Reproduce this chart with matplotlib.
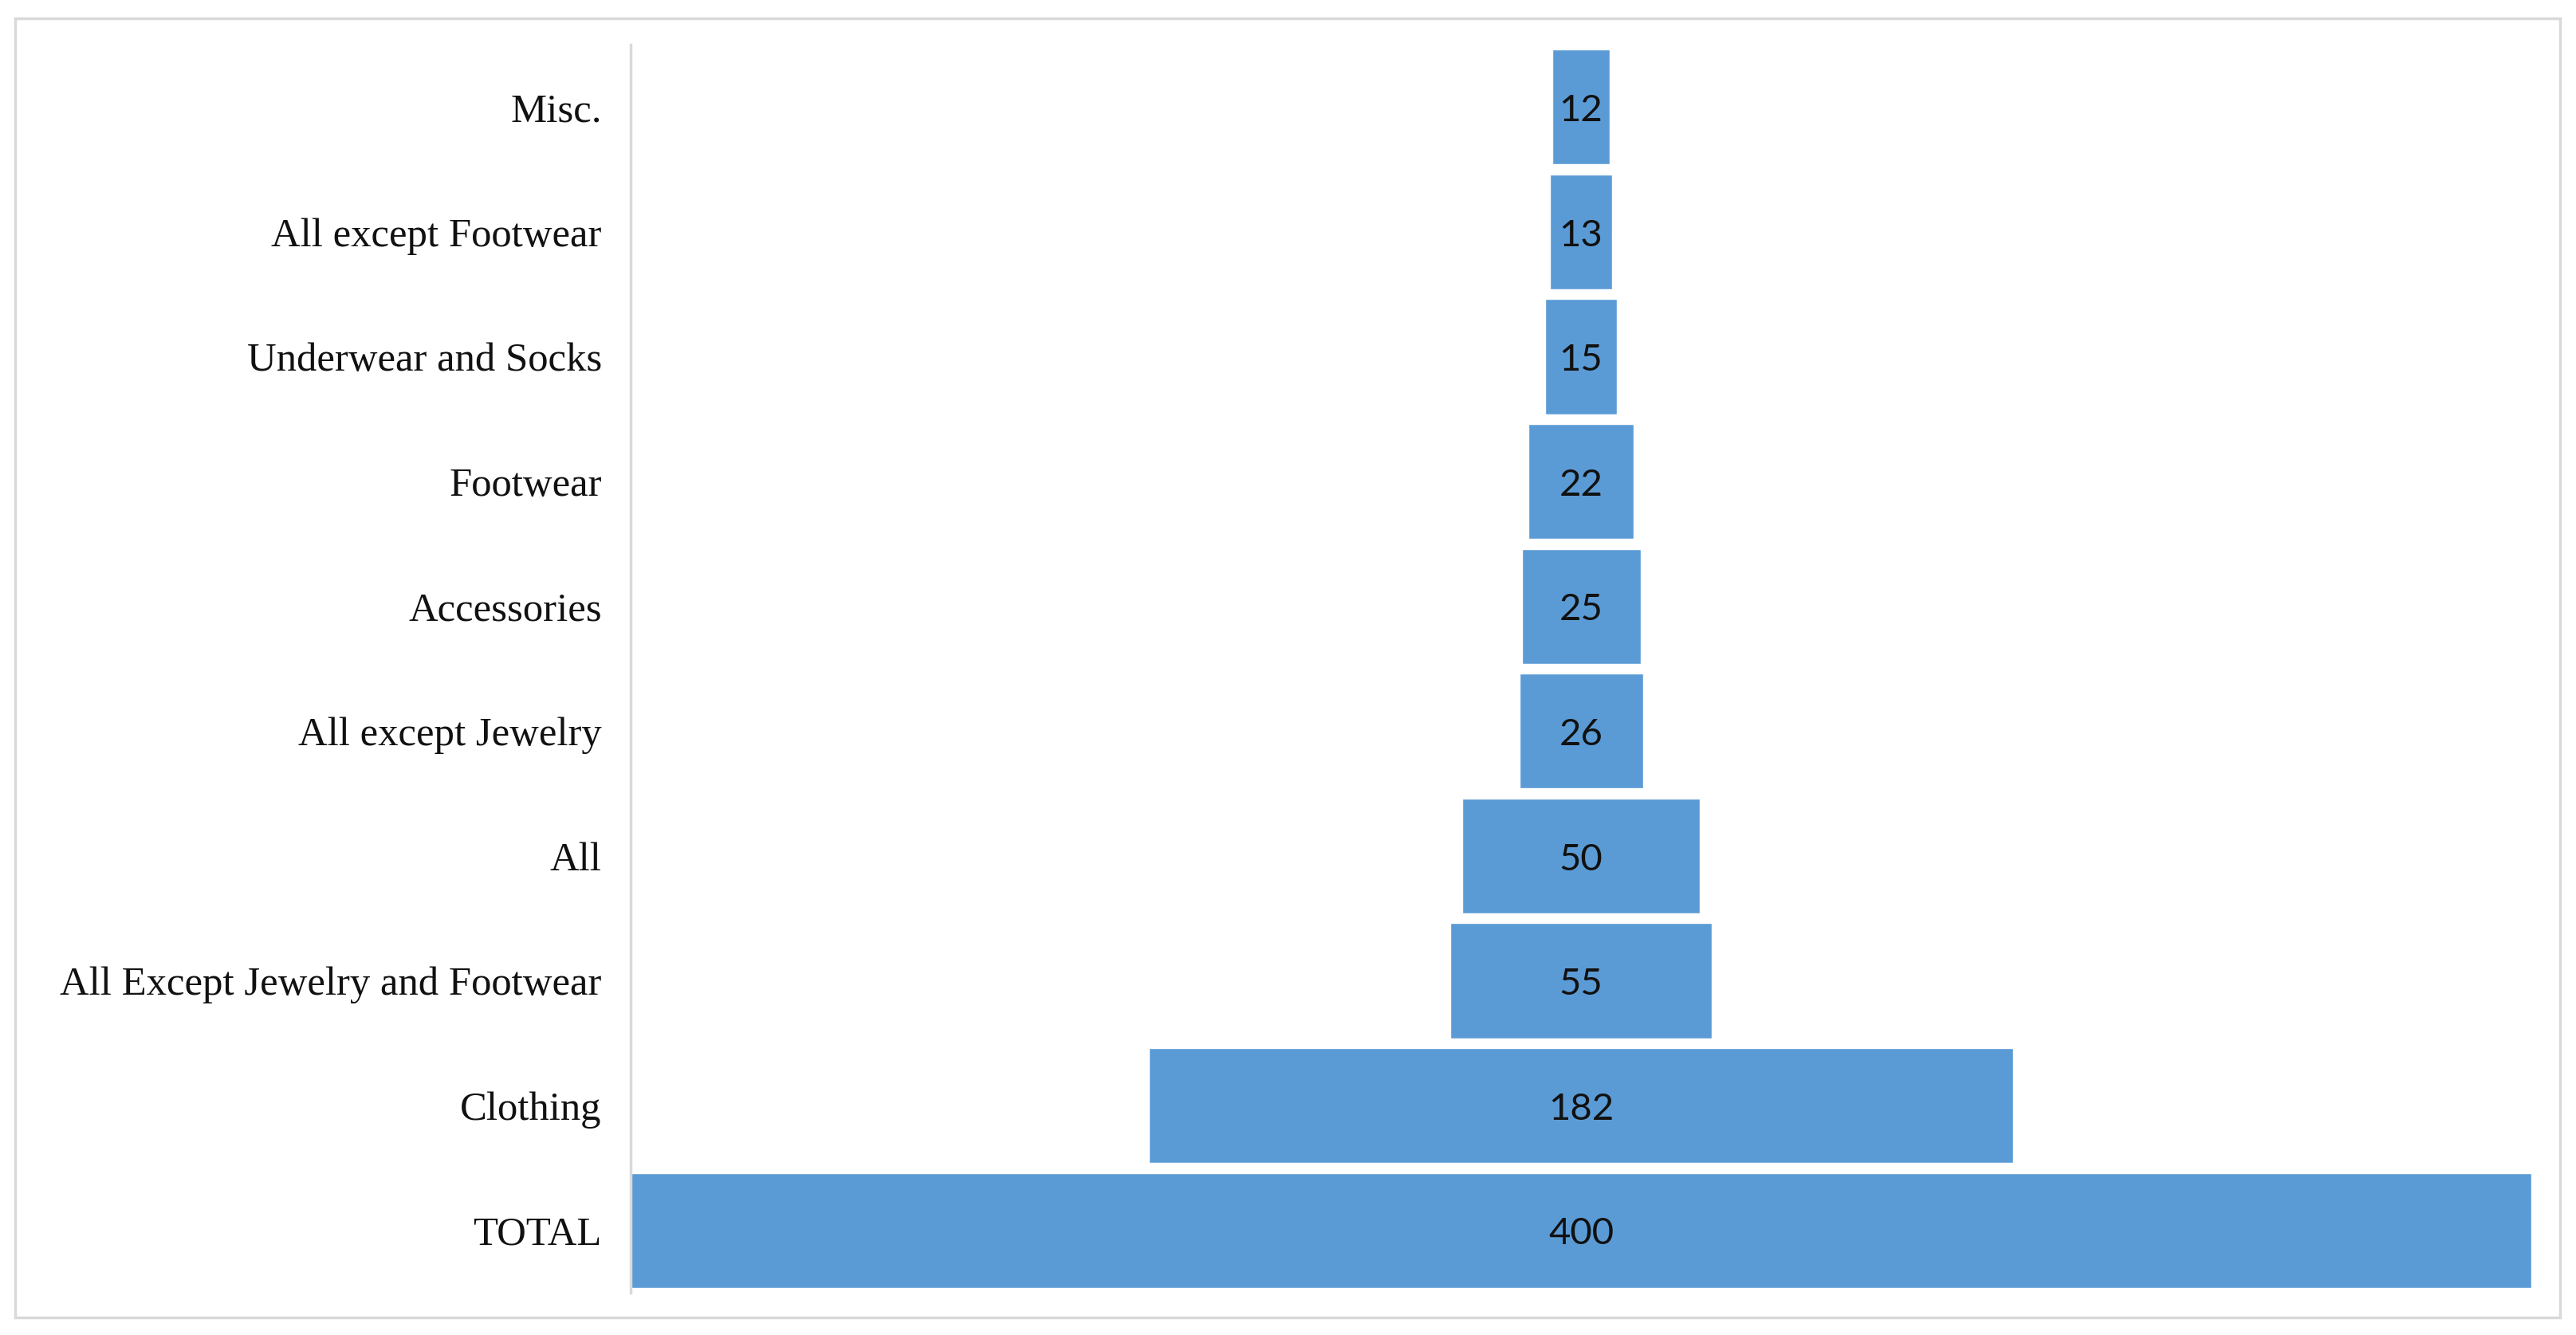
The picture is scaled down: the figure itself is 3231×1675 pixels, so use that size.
import matplotlib

matplotlib.use("Agg")
import matplotlib.pyplot as plt
from matplotlib.patches import Rectangle

# Funnel stages, top to bottom
categories = ["Misc.", "All except Footwear", "Underwear and Socks", "Footwear",
              "Accessories", "All except Jewelry", "All",
              "All Except Jewelry and Footwear", "Clothing", "TOTAL"]
counts = [12, 13, 15, 22, 25, 26, 50, 55, 182, 400]

BAR = "#5B9BD5"
GRID = "#D9D9D9"

fig = plt.figure(figsize=(32.31, 16.75), dpi=100)
ax = fig.add_axes([0.2448, 0.0316, 0.7379, 0.935])

# outer chart border
fig.patches.append(Rectangle((19 / 3231, 1 - 1653 / 1675), (3211 - 19) / 3231,
                             (1653 - 23) / 1675, transform=fig.transFigure,
                             fill=False, edgecolor=GRID, lw=2.5))

ypos = list(range(len(categories)))[::-1]
half = max(counts) / 2
lefts = [-c / 2 for c in counts]
ax.barh(ypos, counts, left=lefts, height=0.92, color=BAR,
        edgecolor="white", lw=1.0)

for y, c in zip(ypos, counts):
    ax.text(0, y - 0.03, str(c), ha="center", va="center", fontsize=34,
            family="Lato", color="#111111")

ax.set_xlim(-half, half)
ax.set_ylim(-0.5, len(categories) - 0.5)
ax.set_yticks(ypos)
ax.set_yticklabels(categories, family="Liberation Serif", fontsize=36.5,
                   color="#111111")
ax.tick_params(axis="y", length=0, pad=26)
ax.set_xticks([])
for s in ("top", "right", "bottom"):
    ax.spines[s].set_visible(False)
ax.spines["left"].set_color(GRID)
ax.spines["left"].set_linewidth(2.5)

fig.savefig("out.png", dpi=100)
